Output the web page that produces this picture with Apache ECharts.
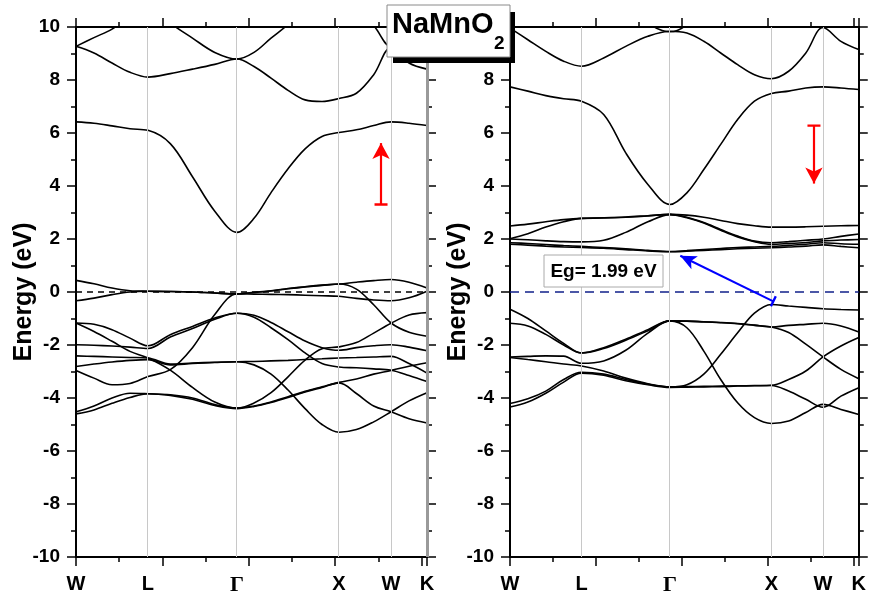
<!DOCTYPE html>
<html><head><meta charset="utf-8">
<script src="https://cdn.jsdelivr.net/npm/echarts@6/dist/echarts.min.js"></script>
<style>html,body{margin:0;padding:0;background:#fff}#c{width:869px;height:598px}</style>
</head><body><div id="c"></div>
<script>
// k-path sample positions (W-L-Γ-X-W-K), same for both panels
const kGrid = [0, 0.208, 0.417, 0.625, 0.833, 1.091, 1.348, 1.606, 1.863, 2.060, 2.257, 2.454, 2.651, 2.847, 3.044, 3.245, 3.445, 3.646, 3.854, 4.062];
const kPoints = [0, 0.833, 1.863, 3.044, 3.646, 4.062];
const kLabels = ['W', 'L', 'Γ', 'X', 'W', 'K'];

// ---- left panel (spin up) ----
const upC1 = [6.42, 6.37, 6.27, 6.16, 6.10, 5.60, 4.35, 3.05, 2.25, 2.78, 3.75, 4.65, 5.40, 5.87, 6.02, 6.12, 6.28, 6.42, 6.37, 6.28];
const upC2 = [9.27, 9.02, 8.64, 8.29, 8.11, 8.24, 8.41, 8.59, 8.79, 8.51, 8.07, 7.61, 7.25, 7.19, 7.30, 7.50, 8.20, 9.22, 8.64, 8.41];
const upC3 = [null, null, null, null, null, null, null, null, null, null, null, null, null, null, 11.3, 10.6, 10.05, 9.25, 9.9, 10.6];
const upC4 = [9.27, 9.60, 9.92, 10.4, 10.9, 10.15, 9.58, 9.04, 8.79, 9.04, 9.58, 10.1, 10.8, null, null, null, null, null, null, null];
const upV1 = [0.44, 0.31, 0.15, 0.05, 0.03, 0.02, 0.00, -0.04, -0.07, -0.01, 0.05, 0.13, 0.20, 0.26, 0.30, 0.37, 0.43, 0.47, 0.37, 0.15];
const upV2 = [-0.33, -0.23, -0.10, 0.00, 0.03, 0.02, 0.00, -0.04, -0.07, -0.02, 0.04, 0.12, 0.19, 0.25, 0.30, 0.11, -0.48, -1.17, -1.52, -1.67];
const upV3 = [-2.96, -3.25, -3.50, -3.45, -3.19, -2.93, -2.10, -0.85, -0.07, -0.08, -0.09, -0.10, -0.12, -0.14, -0.16, -0.24, -0.30, -0.33, -0.22, 0.03];
const upV4 = [-1.17, -1.22, -1.42, -1.74, -2.03, -1.61, -1.30, -0.98, -0.80, -0.88, -1.15, -1.50, -1.85, -2.10, -2.20, -2.10, -2.03, -1.99, -2.08, -2.22];
const upV5 = [-1.99, -2.01, -2.04, -2.08, -2.13, -1.70, -1.38, -1.03, -0.80, -0.95, -1.35, -1.80, -2.30, -2.70, -2.83, -2.86, -2.90, -2.95, -3.15, -3.38];
const upV6 = [-2.41, -2.43, -2.45, -2.47, -2.49, -2.72, -2.68, -2.65, -2.63, -2.62, -2.60, -2.58, -2.55, -2.52, -2.49, -2.47, -2.45, -2.43, -2.70, -3.06];
const upV7 = [-2.81, -2.72, -2.64, -2.58, -2.55, -2.75, -2.70, -2.66, -2.63, -2.75, -3.10, -3.70, -4.40, -5.00, -5.29, -5.19, -4.90, -4.52, -4.11, -3.80];
const upV8 = [-1.17, -1.49, -1.86, -2.24, -2.49, -2.95, -3.60, -4.15, -4.38, -4.19, -3.80, -3.20, -2.57, -2.14, -2.07, -1.91, -1.55, -1.18, -0.87, -0.78];
const upV9 = [-4.52, -4.30, -4.00, -3.82, -3.84, -3.88, -4.00, -4.25, -4.38, -4.30, -4.15, -3.95, -3.75, -3.58, -3.41, -3.28, -3.10, -2.96, -2.80, -2.67];
const upV10 = [-4.60, -4.45, -4.20, -3.98, -3.84, -3.90, -4.05, -4.28, -4.40, -4.32, -4.17, -3.98, -3.77, -3.60, -3.43, -3.83, -4.30, -4.52, -4.78, -4.94];

// ---- right panel (spin down) ----
const dnC1 = [7.74, 7.58, 7.41, 7.29, 7.20, 6.70, 5.25, 4.06, 3.30, 3.74, 4.62, 5.57, 6.51, 7.20, 7.49, 7.58, 7.70, 7.74, 7.70, 7.64];
const dnC2 = [9.96, 9.52, 9.08, 8.71, 8.52, 8.83, 9.27, 9.65, 9.84, 9.77, 9.46, 9.02, 8.58, 8.20, 8.05, 8.33, 9.02, 9.98, 9.46, 9.15];
const dnC3 = [null, null, null, null, null, null, 11.0, 10.15, 9.82, 10.1, 11.0, null, null, null, null, null, null, null, null, null];
const dnM1 = [2.49, 2.56, 2.65, 2.73, 2.78, 2.80, 2.83, 2.88, 2.93, 2.90, 2.82, 2.70, 2.58, 2.50, 2.45, 2.45, 2.46, 2.48, 2.50, 2.51];
const dnM2 = [2.01, 2.20, 2.45, 2.65, 2.78, 2.79, 2.82, 2.87, 2.93, 2.82, 2.62, 2.36, 2.11, 1.92, 1.86, 1.90, 1.95, 2.00, 2.10, 2.19];
const dnM3 = [2.00, 1.97, 1.93, 1.90, 1.89, 1.95, 2.25, 2.65, 2.92, 2.80, 2.60, 2.33, 2.08, 1.90, 1.80, 1.83, 1.87, 1.93, 1.96, 1.98];
const dnM4 = [1.86, 1.83, 1.79, 1.75, 1.72, 1.68, 1.63, 1.57, 1.53, 1.56, 1.60, 1.64, 1.68, 1.70, 1.72, 1.76, 1.80, 1.86, 1.82, 1.80];
const dnM5 = [1.80, 1.77, 1.73, 1.70, 1.68, 1.65, 1.60, 1.55, 1.52, 1.54, 1.57, 1.60, 1.63, 1.65, 1.67, 1.70, 1.73, 1.78, 1.72, 1.67];
const dnVa = [-0.65, -1.00, -1.47, -1.94, -2.30, -2.10, -1.78, -1.42, -1.09, -1.10, -1.12, -1.15, -1.19, -1.25, -1.32, -1.26, -1.22, -1.18, -1.28, -1.51];
const dnVb = [-1.18, -1.28, -1.60, -2.00, -2.30, -2.13, -1.82, -1.46, -1.09, -1.10, -1.13, -1.16, -1.20, -1.26, -1.32, -1.53, -1.97, -2.45, -2.92, -3.27];
const dnVc = [-2.45, -2.43, -2.41, -2.42, -2.69, -2.60, -2.20, -1.55, -1.09, -1.35, -2.23, -3.30, -4.18, -4.74, -4.96, -4.87, -4.55, -4.24, -4.43, -4.62];
const dnVd = [-2.47, -2.55, -2.63, -2.72, -2.79, -2.98, -3.25, -3.46, -3.58, -3.50, -3.10, -2.35, -1.54, -0.80, -0.47, -0.53, -0.58, -0.63, -0.66, -0.68];
const dnVe = [-4.21, -4.03, -3.74, -3.30, -3.03, -3.10, -3.30, -3.48, -3.58, -3.57, -3.56, -3.55, -3.54, -3.53, -3.52, -3.30, -2.98, -2.45, -2.04, -1.72];
const dnVf = [-4.34, -4.15, -3.82, -3.40, -3.06, -3.14, -3.35, -3.50, -3.60, -3.59, -3.58, -3.57, -3.55, -3.54, -3.53, -3.74, -4.05, -4.35, -3.93, -3.61];

const upBands = [upC1, upC2, upC3, upC4, upV1, upV2, upV3, upV4, upV5, upV6, upV7, upV8, upV9, upV10];
const dnBands = [dnC1, dnC2, dnC3, dnM1, dnM2, dnM3, dnM4, dnM5, dnVa, dnVb, dnVc, dnVd, dnVe, dnVf];

// annotation values
const upArrow = [[3.53, 3.3], [3.53, 5.92]];
const dnArrow = [[3.54, 6.28], [3.54, 3.79]];
const gapArrow = [[3.067, -0.35], [1.90, 1.50]];
const gapText = 'Eg= 1.99 eV';

const FONT = 'Liberation Sans, Arial, sans-serif';
const capPath = 'path://M0,-10L0.01,-10L0,-9.99Z M0,-1.5L20,-1.5L20,1.5L0,1.5Z M0,10L0.01,10L0,10.01Z';

function xAx(gi, pos, lab) {
  return {
    type: 'value', gridIndex: gi, position: pos, min: 0, max: 4.062, interval: 1,
    axisLine: { show: true, onZero: false, lineStyle: { color: '#000', width: 2 } },
    axisTick: { show: true, length: 9, lineStyle: { color: '#000', width: 1.5 } },
    minorTick: { show: true, splitNumber: 2, length: 5, lineStyle: { color: '#000', width: 1.5 } },
    splitLine: { show: false }, minorSplitLine: { show: false },
    axisLabel: lab ? {
      show: true, customValues: kPoints, margin: 17, color: '#000', fontSize: 20, fontWeight: 'bold', fontFamily: FONT,
      formatter: v => { for (let i = 0; i < kPoints.length; i++) if (Math.abs(v - kPoints[i]) < 1e-6) return kLabels[i] === 'Γ' ? '{g|Γ}' : kLabels[i]; return ''; },
      rich: { g: { fontFamily: 'Liberation Serif, serif', fontSize: 22, fontWeight: 'bold', color: '#000' } }
    } : { show: false }
  };
}
function yAx(gi, pos, lab) {
  return {
    type: 'value', gridIndex: gi, position: pos, min: -10, max: 10, interval: 2,
    axisLine: { show: true, onZero: false, lineStyle: { color: '#000', width: 2 } },
    axisTick: { show: true, length: 9, lineStyle: { color: '#000', width: 1.5 } },
    minorTick: { show: true, splitNumber: 2, length: 5, lineStyle: { color: '#000', width: 1.5 } },
    splitLine: { show: false }, minorSplitLine: { show: false },
    axisLabel: lab ? { show: true, margin: 16, color: '#000', fontSize: 19, fontWeight: 'bold', fontFamily: FONT } : { show: false },
    name: lab ? 'Energy (eV)' : '', nameLocation: 'middle', nameGap: 39, nameMoveOverlap: false,
    nameTextStyle: { color: '#000', fontSize: 25, fontWeight: 'bold', fontFamily: FONT }
  };
}

function bandSeries(b, xi, yi) {
  return {
    type: 'line', xAxisIndex: xi, yAxisIndex: yi, data: kGrid.map((k, i) => [k, b[i]]),
    symbol: 'none', showSymbol: false, smooth: 0.35, clip: true, silent: true, z: 3,
    lineStyle: { color: '#000', width: 1.6 }
  };
}

function baseSeries(xi, yi, dashColor, dash, withK) {
  const vlines = kPoints.slice(1, 5).map(k => ({ xAxis: k }));
  if (withK) vlines.push({ xAxis: kPoints[5], lineStyle: { color: '#9a9a9a', width: 3 } });
  return {
    type: 'line', xAxisIndex: xi, yAxisIndex: yi, data: [[kPoints[0], 0], [kPoints[5], 0]],
    symbol: 'none', silent: true, z: 2,
    lineStyle: { color: dashColor, width: 1.6, type: dash },
    markLine: { silent: true, symbol: 'none', label: { show: false }, animation: false,
      lineStyle: { color: '#c8c8c8', width: 1, type: 'solid' }, data: vlines }
  };
}

function arrowSeries(xi, yi, pts, color, size, width) {
  return {
    type: 'line', xAxisIndex: xi, yAxisIndex: yi, data: [], silent: true, z: 5,
    markLine: {
      silent: true, animation: false, symbol: [capPath, 'arrow'], symbolSize: [size[0], size[1]],
      label: { show: false }, lineStyle: { color: color, width: width, type: 'solid' },
      data: [[{ coord: pts[0] }, { coord: pts[1] }]]
    }
  };
}

// move the arrow end back so the tip (symbol is centred on the end point) lands on the target
function tipAdjust(pts, size) {
  const pxPerK = 351 / 4.062, pxPerE = 530 / 20;
  const dx = (pts[1][0] - pts[0][0]) * pxPerK, dy = (pts[1][1] - pts[0][1]) * pxPerE;
  const len = Math.hypot(dx, dy), f = (size / 2) / len;
  return [pts[0], [pts[1][0] - f * (pts[1][0] - pts[0][0]), pts[1][1] - f * (pts[1][1] - pts[0][1])]];
}

const series = [];
series.push(baseSeries(0, 0, '#000', [6, 5], true));
series.push(baseSeries(2, 2, '#10208a', [9, 6], false));
upBands.forEach(b => series.push(bandSeries(b, 0, 0)));
dnBands.forEach(b => series.push(bandSeries(b, 2, 2)));
series.push(arrowSeries(0, 0, tipAdjust(upArrow, 16), '#ff0000', [13, 16], 2.2));
series.push(arrowSeries(2, 2, tipAdjust(dnArrow, 16), '#ff0000', [13, 16], 2.2));
series.push(arrowSeries(2, 2, tipAdjust(gapArrow, 16), '#0000ff', [11, 16], 2));

const chart = echarts.init(document.getElementById('c'));
chart.setOption({
  animation: false,
  backgroundColor: '#fff',
  grid: [
    { left: 76, top: 27, width: 351, height: 530 },
    { left: 510, top: 27, width: 351, height: 530 }
  ],
  xAxis: [xAx(0, 'bottom', true), xAx(0, 'top', false), xAx(1, 'bottom', true), xAx(1, 'top', false)],
  yAxis: [yAx(0, 'left', true), yAx(0, 'right', false), yAx(1, 'left', true), yAx(1, 'right', false)],
  series: series,
  graphic: [
    { type: 'rect', z: 100, shape: { x: 393, y: 12, width: 122, height: 51 }, style: { fill: '#000' } },
    { type: 'rect', z: 101, shape: { x: 387, y: 5, width: 123, height: 52 }, style: { fill: '#fff', stroke: '#8a8a8a', lineWidth: 1 } },
    { type: 'text', z: 102, x: 392, y: 25, style: { text: 'NaMnO', fill: '#000', font: 'bold 29px ' + FONT, verticalAlign: 'middle', align: 'left' } },
    { type: 'text', z: 102, x: 494, y: 44, style: { text: '2', fill: '#000', font: 'bold 19px ' + FONT, verticalAlign: 'middle', align: 'left' } },
    { type: 'rect', z: 100, shape: { x: 544, y: 255, width: 119, height: 32 }, style: { fill: '#fff', stroke: '#aaaaaa', lineWidth: 1 } },
    { type: 'text', z: 101, x: 603.5, y: 271.5, style: { text: gapText, fill: '#000', font: 'bold 19px ' + FONT, verticalAlign: 'middle', align: 'center' } }
  ]
});
</script></body></html>
